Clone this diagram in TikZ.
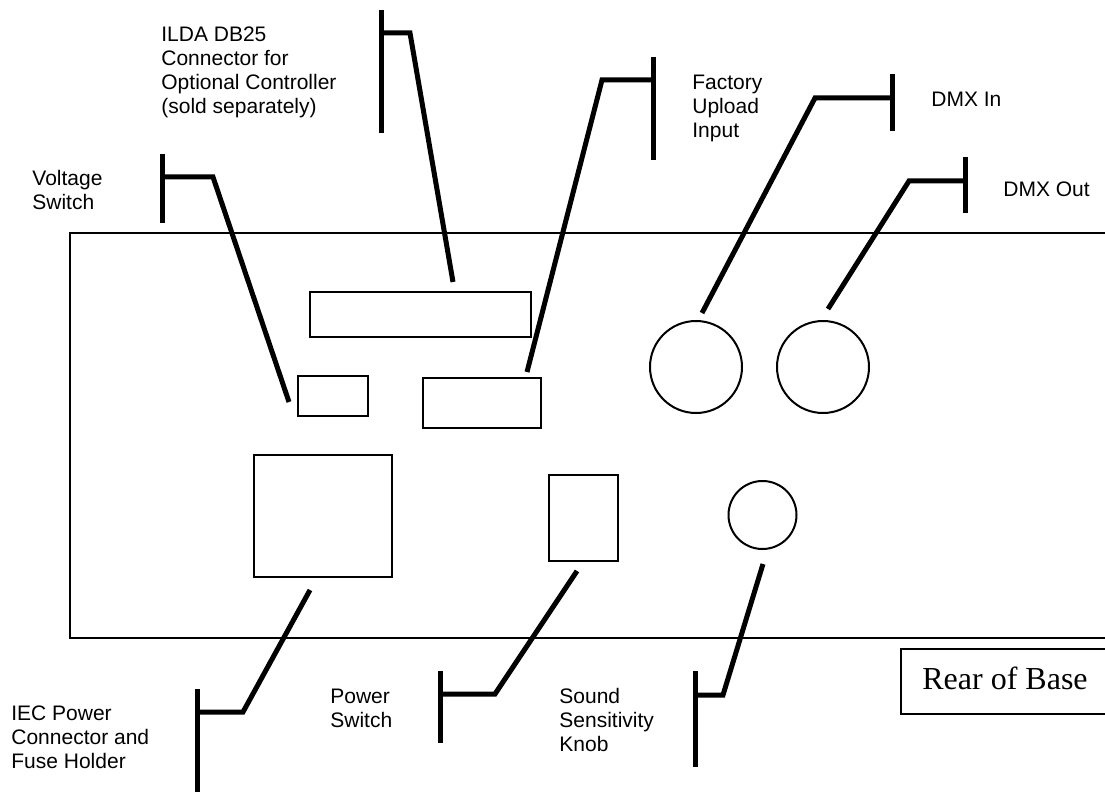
\documentclass[tikz,border=0pt]{standalone}
\usepackage{fontspec}
\setmainfont{Liberation Sans}
\newfontfamily\serifrm{Liberation Serif}
\usetikzlibrary{fit,calc}
\tikzset{
  part/.style={draw, line width=1pt, inner sep=0pt},
  roundpart/.style={draw, circle, line width=1pt, inner sep=0pt},
  leader/.style={line width=2.5pt, line cap=butt, line join=miter},
  barline/.style={line width=2.5pt, line cap=butt},
  lbl/.style={anchor=base west, align=left, inner sep=0pt, font=\fontsize{10.5}{12}\selectfont},
  outline/.style={line width=1pt}
}
\begin{document}
\begin{tikzpicture}[x=0.5pt,y=-0.5pt]
\useasboundingbox (0,0) rectangle (1105,792);
\clip (0,0) rectangle (1105,792);
\fill[white] (0,0) rectangle (1105,792);

% base outline (open at right, runs off the page)
\draw[outline] (1120,233) -- (70,233) -- (70,638) -- (1120,638);

% components
\node[part, fit={(298,376) (368,416)}] (vsw) {};
\node[part, fit={(310,292) (531,337)}] (db25) {};
\node[part, fit={(423,378) (541,428)}] (fup) {};
\node[part, fit={(254,455) (392,577)}] (iec) {};
\node[part, fit={(549,475) (618,561)}] (pwr) {};
\node[roundpart, minimum size=46pt] (dmxin) at (696,367) {};
\node[roundpart, minimum size=46pt] (dmxout) at (823,367) {};
\node[roundpart, minimum size=34pt] (knob) at (762.5,515) {};

% labels (anchored at the baseline of their last line)
\node[lbl] (l-vsw) at (32,210) {Voltage\\Switch};
\node[lbl] (l-db25) at (161,113.5) {ILDA DB25\\Connector for\\Optional Controller\\(sold separately)};
\node[lbl] (l-fup) at (692,138) {Factory\\Upload\\Input};
\node[lbl] (l-dmxin) at (931,107) {DMX In};
\node[lbl] (l-dmxout) at (1003,197) {DMX Out};
\node[lbl] (l-iec) at (11,768) {IEC Power\\Connector and\\Fuse Holder};
\node[lbl] (l-pwr) at (330,727) {Power\\Switch};
\node[lbl] (l-knob) at (559,751) {Sound\\Sensitivity\\Knob};

% Rear of Base tag
\node[part, fit={(901,649) (1130,714)}] (rearbox) {};
\node[anchor=base west, inner sep=0pt, font=\serifrm\fontsize{16}{19}\selectfont] (rear) at (922,689) {Rear of Base};

% leader coordinates
\coordinate (vs-m) at (162,177);  \coordinate (vs-e) at (213,177);  \coordinate (vs-t) at (289,402);
\coordinate (db-m) at (381,33);   \coordinate (db-e) at (410,33);   \coordinate (db-t) at (453,282);
\coordinate (fu-m) at (653,80);   \coordinate (fu-e) at (602,80);   \coordinate (fu-t) at (527,372);
\coordinate (di-m) at (892,98);   \coordinate (di-e) at (815,98);   \coordinate (di-t) at (702,313);
\coordinate (do-m) at (965,181);  \coordinate (do-e) at (909,181);  \coordinate (do-t) at (828,309);
\coordinate (ie-m) at (197,712);  \coordinate (ie-e) at (243,712);  \coordinate (ie-t) at (310,590);
\coordinate (pw-m) at (440,694);  \coordinate (pw-e) at (495,694);  \coordinate (pw-t) at (577,571);
\coordinate (kn-m) at (695,695);  \coordinate (kn-e) at (723,695);  \coordinate (kn-t) at (763,564);

% bars
\draw[barline] (162,154) -- (162,223);
\draw[barline] (381,10) -- (381,133);
\draw[barline] (653,57) -- (653,160);
\draw[barline] (892,74) -- (892,131);
\draw[barline] (965,157) -- (965,213);
\draw[barline] (197,689) -- (197,800);
\draw[barline] (440,671) -- (440,743);
\draw[barline] (695,671) -- (695,767);

% leaders
\draw[leader] (vs-m) -- (vs-e) -- (vs-t);
\draw[leader] (db-m) -- (db-e) -- (db-t);
\draw[leader] (fu-m) -- (fu-e) -- (fu-t);
\draw[leader] (di-m) -- (di-e) -- (di-t);
\draw[leader] (do-m) -- (do-e) -- (do-t);
\draw[leader] (ie-m) -- (ie-e) -- (ie-t);
\draw[leader] (pw-m) -- (pw-e) -- (pw-t);
\draw[leader] (kn-m) -- (kn-e) -- (kn-t);
\end{tikzpicture}
\end{document}
